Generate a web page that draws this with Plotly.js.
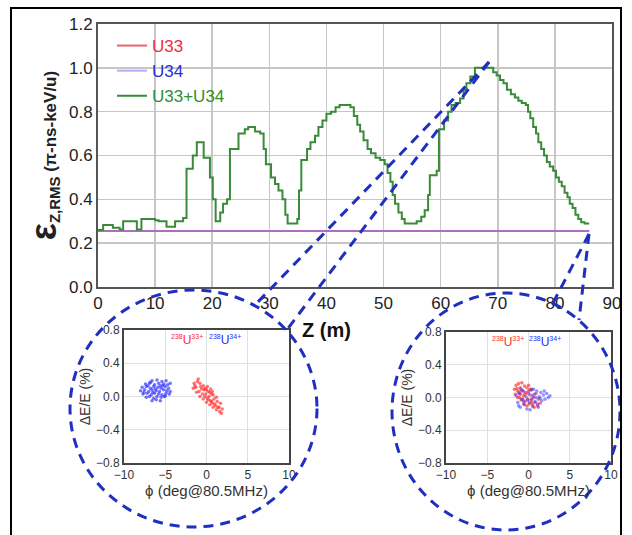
<!DOCTYPE html>
<html><head><meta charset="utf-8">
<script src="https://cdn.plot.ly/plotly-3.0.1.min.js"></script>
<style>html,body{margin:0;padding:0;background:#fff}#chart{width:632px;height:535px}</style>
</head><body><div id="chart"></div>
<script>
// ---- main chart data ----
const zFlat = [0, 86];
const u33 = [0.255, 0.255];
const u34 = [0.255, 0.255];
const zSum = [0,0.9,2.6,3.8,4.4,6.8,7.6,10.0,10.6,12.0,13.5,14.9,15.5,16.6,17.3,18.5,19.6,20.1,20.6,21.4,21.9,22.6,23.1,24.6,25.7,26.3,27.5,28.4,29.0,29.4,30.3,31.0,31.6,32.3,32.8,33.2,34.9,35.2,35.6,36.6,37.2,38.0,38.6,39.3,40.0,40.8,41.6,42.3,44.2,44.8,45.4,45.9,46.5,47.2,47.8,48.6,49.4,50.2,50.7,51.2,51.6,52.0,52.6,53.2,53.7,55.8,56.6,57.2,57.8,58.1,59.3,59.7,60.6,61.3,61.9,62.6,63.4,64.0,64.5,65.2,66.0,69.2,69.8,70.4,71.0,71.6,72.3,73.0,73.6,74.2,74.9,75.3,75.7,76.2,76.7,77.1,77.6,78.1,78.6,79.1,79.7,80.2,80.7,81.2,81.7,82.2,82.6,83.1,83.6,84.1,84.6,85.2,86.0];
const sumVals = [0.26,0.283,0.27,0.262,0.30,0.262,0.31,0.305,0.30,0.275,0.30,0.315,0.54,0.60,0.66,0.59,0.50,0.40,0.30,0.34,0.38,0.40,0.63,0.70,0.72,0.73,0.71,0.70,0.63,0.56,0.50,0.47,0.44,0.40,0.33,0.29,0.31,0.44,0.58,0.63,0.66,0.69,0.73,0.76,0.79,0.80,0.82,0.83,0.82,0.78,0.74,0.71,0.67,0.63,0.61,0.59,0.58,0.56,0.52,0.48,0.42,0.38,0.34,0.31,0.29,0.30,0.32,0.35,0.42,0.51,0.53,0.72,0.76,0.80,0.83,0.84,0.86,0.90,0.93,0.96,1.00,0.98,0.965,0.945,0.93,0.90,0.88,0.865,0.85,0.84,0.83,0.80,0.77,0.73,0.70,0.66,0.63,0.60,0.57,0.55,0.53,0.50,0.48,0.46,0.43,0.41,0.38,0.36,0.33,0.31,0.295,0.29,0.29];
const zTicks = [0,10,20,30,40,50,60,70,80,90];
const epsTicks = [0.0,0.2,0.4,0.6,0.8,1.0,1.2];

// ---- inset A (left) ----
const phiA34 = [-6.6,-6.0,-5.4,-4.9,-7.4,-6.9,-6.3,-5.8,-5.2,-4.7,-4.4,-7.8,-7.3,-6.8,-6.4,-5.9,-5.5,-5.0,-4.6,-8.0,-7.5,-7.0,-6.6,-6.1,-5.7,-5.2,-4.8,-4.4,-7.7,-7.2,-6.7,-6.3,-5.8,-5.4,-4.9,-4.5,-7.3,-6.9,-6.4,-6.0,-5.5,-5.1,-6.6,-6.1,-5.6,-7.1,-6.2,-5.3,-6.5,-5.6,-7.6,-5.0,-6.8];
const dEA34 = [0.19,0.20,0.18,0.19,0.15,0.16,0.14,0.16,0.15,0.14,0.16,0.11,0.12,0.10,0.12,0.11,0.10,0.12,0.10,0.07,0.08,0.06,0.08,0.07,0.06,0.08,0.07,0.06,0.03,0.04,0.02,0.04,0.03,0.02,0.04,0.03,-0.01,0.00,-0.02,0.00,-0.01,0.00,-0.05,-0.04,-0.05,0.13,0.09,0.13,0.05,0.13,0.05,0.01,0.17];
const phiA33 = [-1.6,-1.5,-1.2,-1.3,-1.1,-1.0,-0.8,-0.9,-0.7,-0.8,-0.4,-0.5,-0.3,-0.4,0.0,0.1,-0.1,0.0,0.1,0.4,0.5,0.3,0.4,0.5,0.8,0.7,0.9,0.8,0.7,1.2,1.1,1.3,1.2,1.6,1.5,1.7,1.9,1.8,-0.6,-0.2,0.2,0.6,1.0,0.2,-0.2,1.4,0.6,-1.4];
const dEA33 = [0.10,0.16,0.05,0.11,0.18,0.21,0.0,0.06,0.12,0.16,-0.03,0.03,0.08,0.13,-0.07,-0.02,0.03,0.08,0.12,-0.1,-0.05,0.0,0.05,0.09,-0.13,-0.08,-0.03,0.02,0.06,-0.16,-0.11,-0.06,-0.01,-0.18,-0.13,-0.08,-0.15,-0.2,0.09,0.0,0.06,-0.06,-0.09,-0.04,0.1,-0.13,0.03,0.13];

// ---- inset B (right) ----
const phiB33 = [-1.7,-1.6,-1.5,-1.3,-1.3,-1.2,-1.0,-1.0,-0.9,-0.8,-0.7,-0.6,-0.5,-0.4,-0.3,-0.2,-0.1,0.0,0.1,0.2,0.3,0.4,0.5,0.6,0.8,0.9,1.1,1.2,1.4,-1.1,-0.6,0.0,-1.4,0.7,-0.9,-0.4,0.2,-1.2,-0.7,0.4,-0.2];
const dEB33 = [0.10,0.04,0.15,0.08,0.00,0.17,0.12,0.04,-0.03,0.18,0.09,0.02,0.14,-0.05,0.06,0.12,-0.02,0.08,-0.08,0.03,-0.03,0.10,-0.09,0.00,-0.06,0.05,-0.10,-0.02,-0.07,0.00,-0.08,0.15,0.11,-0.12,0.08,0.04,0.10,0.06,-0.02,-0.06,-0.10];
const phiB34 = [-1.5,-1.3,-1.1,-1.0,-0.8,-0.6,-0.5,-0.3,-0.2,0.0,0.1,0.3,0.4,0.5,0.7,0.8,1.0,1.1,1.3,1.5,1.6,1.8,2.0,2.2,2.4,2.6,-0.9,0.2,1.9,1.2,-1.2,0.6,0.9,-0.1,1.4,0.5,-0.6];
const dEB34 = [0.02,-0.06,0.05,-0.12,-0.02,0.07,-0.09,0.01,-0.14,0.05,-0.06,0.09,-0.02,-0.11,0.04,-0.05,0.08,-0.08,0.01,0.06,-0.04,0.03,-0.02,0.05,0.00,0.02,0.10,-0.15,0.08,-0.12,-0.10,0.10,0.0,-0.03,-0.01,0.02,-0.05];
const phiTicks = [-10,-5,0,5,10];
const dETicks = [-0.8,-0.4,0.0,0.4,0.8];

// ---- layout helpers (pixel -> paper) ----
const W = 632, H = 535;
const px = v => v / W, py = v => 1 - v / H;
const FONT = 'Arial, "Liberation Sans", sans-serif';
const RED = '#ff2a2a', BLUE = '#2a2aff', DASH = '#1f2fc0';
const ionLabel = q => '<sup><span style="font-size:7px">238</span></sup>U<sup><span style="font-size:7px">' + q + '</span></sup>';

const traces = [
  {x: zFlat, y: u33, mode: 'lines', name: '<span style="color:#ee2d3d">U33</span>', legendgroup: 'a',
   line: {color: '#f0606e', width: 2}, xaxis: 'x', yaxis: 'y'},
  {x: zFlat, y: u34, mode: 'lines', name: '<span style="color:#2b2bd8">U34</span>', legendgroup: 'b',
   line: {color: '#8478ee', width: 2}, opacity: 0.6, xaxis: 'x', yaxis: 'y'},
  {x: zSum, y: sumVals, mode: 'lines', name: '<span style="color:#2f8f2f">U33+U34</span>', legendgroup: 'c',
   line: {color: '#3a8a3a', width: 2, shape: 'hv'}, xaxis: 'x', yaxis: 'y'},
  {x: phiA34, y: dEA34, mode: 'markers', showlegend: false, xaxis: 'x2', yaxis: 'y2',
   marker: {color: BLUE, size: 3.5, opacity: 0.65}},
  {x: phiA33, y: dEA33, mode: 'markers', showlegend: false, xaxis: 'x2', yaxis: 'y2',
   marker: {color: RED, size: 3.5, opacity: 0.65}},
  {x: phiB33, y: dEB33, mode: 'markers', showlegend: false, xaxis: 'x3', yaxis: 'y3',
   marker: {color: RED, size: 3.5, opacity: 0.65}},
  {x: phiB34, y: dEB34, mode: 'markers', showlegend: false, xaxis: 'x3', yaxis: 'y3',
   marker: {color: BLUE, size: 3.5, opacity: 0.5}}
];

const mainAx = {showgrid: true, gridcolor: '#c6c6c6', gridwidth: 1.5, zeroline: false,
  showline: true, linecolor: '#555', linewidth: 2, mirror: true, ticks: '',
  tickfont: {family: FONT, size: 17, color: '#222'}};
const insetAx = {showgrid: true, gridcolor: '#e0e0e0', gridwidth: 1, zeroline: false,
  showline: true, linecolor: '#444', linewidth: 2, mirror: true, ticks: '',
  tickfont: {family: FONT, size: 12, color: '#333'}};

const layout = {
  width: W, height: H, margin: {l: 0, r: 0, t: 0, b: 0},
  paper_bgcolor: '#fff', plot_bgcolor: '#fff',
  font: {family: FONT},
  showlegend: true,
  legend: {x: px(112), y: py(28), xanchor: 'left', yanchor: 'top', bgcolor: 'rgba(0,0,0,0)',
    font: {family: FONT, size: 17}, traceorder: 'grouped', tracegroupgap: 0, itemwidth: 30},
  xaxis: Object.assign({}, mainAx, {domain: [px(98), px(612)], range: [0, 90], anchor: 'y',
    tickvals: zTicks}),
  yaxis: Object.assign({}, mainAx, {domain: [py(287), py(24)], range: [0, 1.2], anchor: 'x',
    tickvals: epsTicks, tickformat: '.1f',
    title: {text: '<b><span style="font-size:36px">ε</span><sub><span style="font-size:15px">Z,RMS</span></sub> (π-ns-keV/u)</b>',
      font: {family: FONT, size: 17, color: '#222'}, standoff: 8}}),
  xaxis2: Object.assign({}, insetAx, {domain: [px(124), px(289)], range: [-10, 10], anchor: 'y2',
    tickvals: phiTicks,
    title: {text: 'ϕ (deg@80.5MHz)', font: {family: FONT, size: 15, color: '#333'}, standoff: 0}}),
  yaxis2: Object.assign({}, insetAx, {domain: [py(463), py(330)], range: [-0.8, 0.8], anchor: 'x2',
    tickvals: dETicks, tickformat: '.1f',
    title: {text: 'ΔE/E (%)', font: {family: FONT, size: 14, color: '#333'}, standoff: 2}}),
  xaxis3: Object.assign({}, insetAx, {domain: [px(446), px(611)], range: [-10, 10], anchor: 'y3',
    tickvals: phiTicks,
    title: {text: 'ϕ (deg@80.5MHz)', font: {family: FONT, size: 15, color: '#333'}, standoff: 0}}),
  yaxis3: Object.assign({}, insetAx, {domain: [py(463), py(332)], range: [-0.8, 0.8], anchor: 'x3',
    tickvals: dETicks, tickformat: '.1f',
    title: {text: 'ΔE/E (%)', font: {family: FONT, size: 14, color: '#333'}, standoff: 2}}),
  annotations: [
    {xref: 'paper', yref: 'paper', x: px(326), y: py(330), text: '<b>Z (m)</b>', showarrow: false,
     font: {family: FONT, size: 20, color: '#111'}},
    {xref: 'x2', yref: 'y2', x: -2.4, y: 0.68, text: ionLabel('33+'), showarrow: false,
     font: {family: FONT, size: 12, color: RED}},
    {xref: 'x2', yref: 'y2', x: 2.2, y: 0.68, text: ionLabel('34+'), showarrow: false,
     font: {family: FONT, size: 12, color: BLUE}},
    {xref: 'x3', yref: 'y3', x: -2.5, y: 0.68, text: ionLabel('33+'), showarrow: false,
     font: {family: FONT, size: 12, color: RED}},
    {xref: 'x3', yref: 'y3', x: 2.0, y: 0.68, text: ionLabel('34+'), showarrow: false,
     font: {family: FONT, size: 12, color: BLUE}}
  ],
  shapes: [
    {type: 'rect', xref: 'paper', yref: 'paper', x0: px(99), x1: px(247), y0: py(107), y1: py(25),
     fillcolor: '#fff', line: {width: 0}, layer: 'between'},
    {type: 'circle', xref: 'paper', yref: 'paper', x0: px(70), x1: px(317), y0: py(527), y1: py(290),
     line: {color: DASH, width: 3, dash: '10px,7px'}, layer: 'above'},
    {type: 'circle', xref: 'paper', yref: 'paper', x0: px(392), x1: px(620), y0: py(530), y1: py(293),
     line: {color: DASH, width: 3, dash: '10px,7px'}, layer: 'above'},
    {type: 'line', xref: 'paper', yref: 'paper', x0: px(489), y0: py(62), x1: px(255), y1: py(305),
     line: {color: DASH, width: 3, dash: '10px,7px'}, layer: 'above'},
    {type: 'line', xref: 'paper', yref: 'paper', x0: px(489), y0: py(62), x1: px(286), y1: py(331),
     line: {color: DASH, width: 3, dash: '10px,7px'}, layer: 'above'},
    {type: 'line', xref: 'paper', yref: 'paper', x0: px(589), y0: py(234), x1: px(553), y1: py(303),
     line: {color: DASH, width: 3, dash: '10px,7px'}, layer: 'above'},
    {type: 'line', xref: 'paper', yref: 'paper', x0: px(589), y0: py(234), x1: px(579), y1: py(320),
     line: {color: DASH, width: 3, dash: '10px,7px'}, layer: 'above'},
    {type: 'rect', xref: 'paper', yref: 'paper', x0: px(11), x1: px(621), y0: py(560), y1: py(8),
     line: {color: '#000', width: 2}, layer: 'above'}
  ]
};

Plotly.newPlot('chart', traces, layout, {displayModeBar: false, staticPlot: true});
</script>
</body></html>
